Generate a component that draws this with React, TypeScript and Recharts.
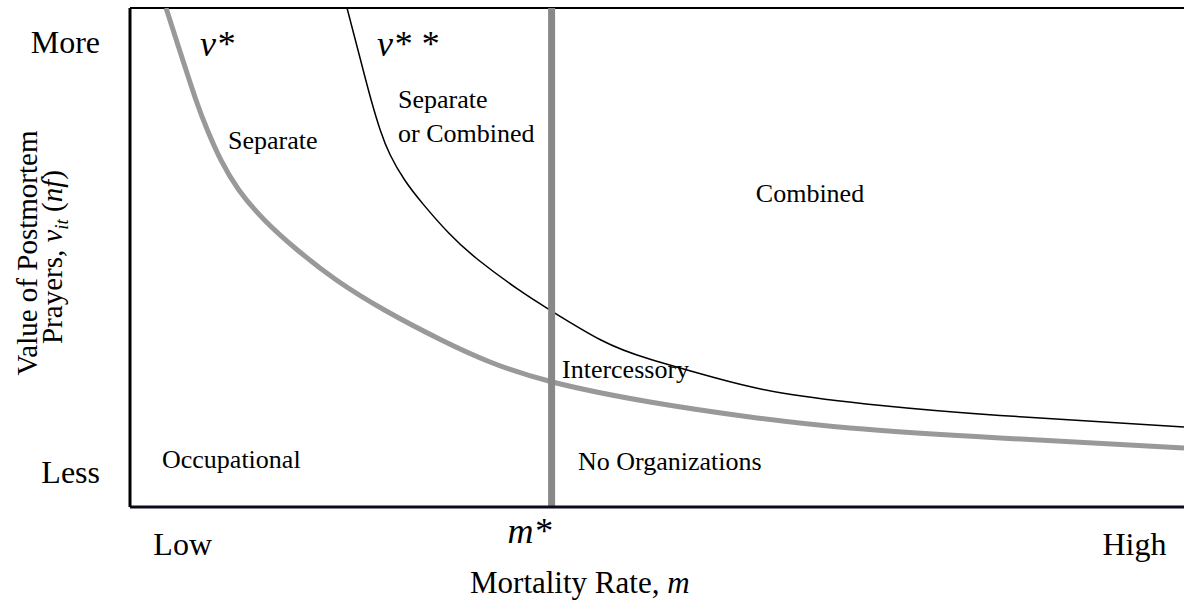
import { LineChart, Line, XAxis, YAxis, ReferenceLine } from "recharts";

const FONT = "'Liberation Serif', 'Times New Roman', serif";
const GRAY = "#999999";
const THRESH = "#888888";

// mortality rate m (0..10) vs value of postmortem prayers v (0..10)
const vStar = [
  { m: 0.342, v: 10 },
  { m: 0.47, v: 9.158 },
  { m: 0.626, v: 8.156 },
  { m: 0.734, v: 7.555 },
  { m: 0.862, v: 6.954 },
  { m: 1.033, v: 6.353 },
  { m: 1.275, v: 5.752 },
  { m: 1.588, v: 5.15 },
  { m: 1.958, v: 4.549 },
  { m: 2.414, v: 3.948 },
  { m: 2.954, v: 3.347 },
  { m: 3.416, v: 2.906 },
  { m: 4.007, v: 2.505 },
  { m: 4.934, v: 2.104 },
  { m: 5.882, v: 1.804 },
  { m: 6.831, v: 1.583 },
  { m: 8.254, v: 1.383 },
  { m: 10, v: 1.182 },
];

const vStarStar = [
  { m: 2.059, v: 10 },
  { m: 2.138, v: 9.359 },
  { m: 2.212, v: 8.758 },
  { m: 2.288, v: 8.156 },
  { m: 2.374, v: 7.555 },
  { m: 2.469, v: 7.054 },
  { m: 2.606, v: 6.553 },
  { m: 2.785, v: 6.06 },
  { m: 3.024, v: 5.491 },
  { m: 3.306, v: 4.95 },
  { m: 3.69, v: 4.349 },
  { m: 3.984, v: 3.948 },
  { m: 4.468, v: 3.347 },
  { m: 4.928, v: 2.966 },
  { m: 5.559, v: 2.585 },
  { m: 6.185, v: 2.285 },
  { m: 7.128, v: 2.034 },
  { m: 8.254, v: 1.834 },
  { m: 10, v: 1.603 },
];

const M_STAR = 4;
const xTicks = [0.5, M_STAR, 9.53];
const xTickLabels: Record<number, string> = { 0.5: "Low", 4: "m*", 9.53: "High" };
const yTicks = [0.7, 9.3];
const yTickLabels: Record<number, string> = { 0.7: "Less", 9.3: "More" };

function XTick(props: any) {
  const { x, y, payload } = props;
  const label = xTickLabels[payload.value];
  if (label === "m*") {
    return (
      <text x={x} y={y + 36} textAnchor="end" fontFamily={FONT} fontSize={36} fontStyle="italic" fill="#000">
        m*
      </text>
    );
  }
  return (
    <text x={x} y={y + 48} textAnchor="middle" fontFamily={FONT} fontSize={32} fill="#000">
      {label}
    </text>
  );
}

function YTick(props: any) {
  const { x, y, payload } = props;
  return (
    <text x={x - 30} y={y} dy="0.33em" textAnchor="end" fontFamily={FONT} fontSize={32} fill="#000">
      {yTickLabels[payload.value]}
    </text>
  );
}

const region = { fontFamily: FONT, fontSize: 26, fill: "#000" };

export default function App() {
  return (
    <div style={{ position: "absolute", left: 0, top: 0, background: "#fff" }}>
      <LineChart width={1184} height={605} margin={{ top: 8, right: 0, bottom: 0, left: 0 }}>
        <XAxis
          type="number"
          dataKey="m"
          domain={[0, 10]}
          ticks={xTicks}
          tick={<XTick />}
          tickLine={false}
          tickSize={0}
          tickMargin={0}
          height={98}
          axisLine={{ stroke: "#0b0b1a", strokeWidth: 3 }}
          allowDataOverflow
        />
        <YAxis
          type="number"
          dataKey="v"
          domain={[0, 10]}
          ticks={yTicks}
          tick={<YTick />}
          tickLine={false}
          tickSize={0}
          tickMargin={0}
          width={130}
          axisLine={{ stroke: "#000", strokeWidth: 3 }}
          allowDataOverflow
        />
        <ReferenceLine y={10} stroke="#000" strokeWidth={2} />
        <Line
          data={vStar}
          dataKey="v"
          type="natural"
          stroke={GRAY}
          strokeWidth={5}
          dot={false}
          isAnimationActive={false}
        />
        <Line
          data={vStarStar}
          dataKey="v"
          type="natural"
          stroke="#000"
          strokeWidth={1.5}
          dot={false}
          isAnimationActive={false}
        />
        <ReferenceLine x={M_STAR} stroke={THRESH} strokeWidth={7} />

        <text x={200} y={56} fontFamily={FONT} fontSize={36} fontStyle="italic" fill="#000">v*</text>
        <text x={377} y={56} fontFamily={FONT} fontSize={36} fontStyle="italic" fill="#000">v* *</text>
        <text x={228} y={149} {...region}>Separate</text>
        <text x={398} y={108} {...region}>Separate</text>
        <text x={398} y={142} {...region}>or Combined</text>
        <text x={810} y={202} textAnchor="middle" {...region}>Combined</text>
        <text x={562} y={378} {...region}>Intercessory</text>
        <text x={162} y={468} {...region}>Occupational</text>
        <text x={578} y={470} {...region}>No Organizations</text>

        <text x={470} y={593} fontFamily={FONT} fontSize={31} fill="#000">
          Mortality Rate, <tspan fontStyle="italic">m</tspan>
        </text>
        <text
          transform="translate(37,253) rotate(-90)"
          textAnchor="middle"
          fontFamily={FONT}
          fontSize={29}
          fill="#000"
        >
          Value of Postmortem
        </text>
        <text
          transform="translate(62,257) rotate(-90)"
          textAnchor="middle"
          fontFamily={FONT}
          fontSize={29}
          fill="#000"
        >
          Prayers, <tspan fontStyle="italic">v</tspan>
          <tspan fontStyle="italic" fontSize={19} dy={6}>it</tspan>
          <tspan dy={-6}> (</tspan>
          <tspan fontStyle="italic">nf</tspan>)
        </text>
      </LineChart>
    </div>
  );
}
